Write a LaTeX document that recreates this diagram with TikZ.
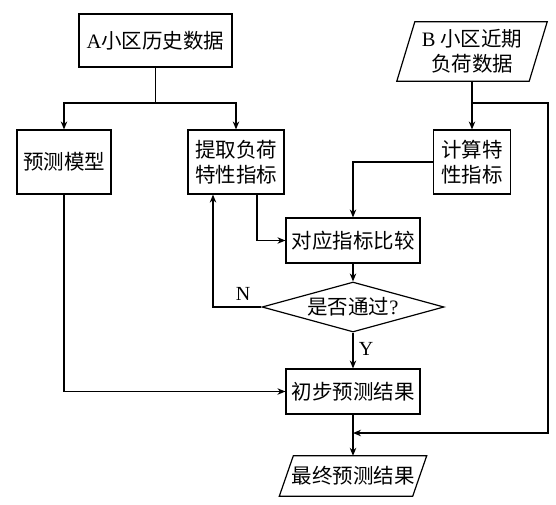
\documentclass[tikz,border=0pt]{standalone}
\usepackage{fontspec}
\setmainfont{Liberation Serif}
\newfontfamily\cjk{Noto Sans CJK SC}
\usetikzlibrary{arrows.meta,shapes.geometric,calc}
\begin{document}
\begin{tikzpicture}[x=1pt,y=-1pt,
  every node/.style={font=\cjk\fontsize{20.5}{25}\selectfont, inner sep=0pt, align=center},
  thick line/.style={line width=1.2pt},
  box/.style={draw, thick line},
  arr/.style={thick line, -{Stealth[length=8pt,width=6.5pt]}},
  lab/.style={font=\rmfamily\fontsize{20}{24}\selectfont}]
\useasboundingbox (0,0) rectangle (556,504);

\node[box, minimum width=153pt, minimum height=53pt] (A) at (155.5,40.5) {{\rmfamily A}小区历史数据};
\node[box, minimum width=94pt, minimum height=64pt] (pred) at (64,162) {预测模型};
\node[box, minimum width=96pt, minimum height=64pt] (ext) at (236,162) {提取负荷\\特性指标};
\node[minimum width=132pt, minimum height=59pt] (B) at (472,51.5) {{\rmfamily B} 小区近期\\负荷数据};
\node[box, minimum width=77pt, minimum height=64pt] (cal) at (472,162) {计算特\\性指标};
\node[box, minimum width=134pt, minimum height=45pt] (cmp) at (353,240.5) {对应指标比较};
\node[draw, thick line, diamond, aspect=3.6, minimum width=182pt, minimum height=50pt] (dec) at (353,307) {是否通过{\rmfamily ?}};
\node[box, minimum width=134pt, minimum height=45pt] (init) at (353,391.5) {初步预测结果};
\node[minimum width=133pt, minimum height=40pt] (fin) at (353,476) {最终预测结果};

% parallelogram outlines
\draw[thick line] ([xshift=-9pt]B.south west) -- ([xshift=-9pt]B.south east)
  -- ([xshift=9pt]B.north east) -- ([xshift=9pt]B.north west) -- cycle;
\draw[thick line] ([xshift=-7pt]fin.south west) -- ([xshift=-7pt]fin.south east)
  -- ([xshift=7pt]fin.north east) -- ([xshift=7pt]fin.north west) -- cycle;

% connectors
\coordinate (asp) at (155.5,103);
\draw[thick line] (A.south) -- (asp);
\draw[arr] (asp) -| (pred.north);
\draw[arr] (asp) -| (ext.north);

\coordinate (bsp) at (472,103);
\coordinate (rc1) at (548,103);
\coordinate (rc2) at (548,433);
\coordinate (jn) at (353,433);
\draw[arr] (B.south) -- (cal.north);
\draw[arr] (bsp) -- (rc1) -- (rc2) -- (jn);

\draw[arr] (cal.west) -| (cmp.north);
\draw[arr] ([xshift=21pt]ext.south) |- (cmp.west);
\draw[arr] (cmp.south) -- (dec.north);
\draw[arr] (dec.west) -| ([xshift=-23pt]ext.south);
\node[lab] (N) at (243,294) {N};
\draw[arr] (dec.south) -- (init.north);
\node[lab] (Y) at (366,349) {Y};
\draw[arr] (pred.south) |- (init.west);
\draw[arr] (init.south) -- (fin.north);
\end{tikzpicture}
\end{document}
